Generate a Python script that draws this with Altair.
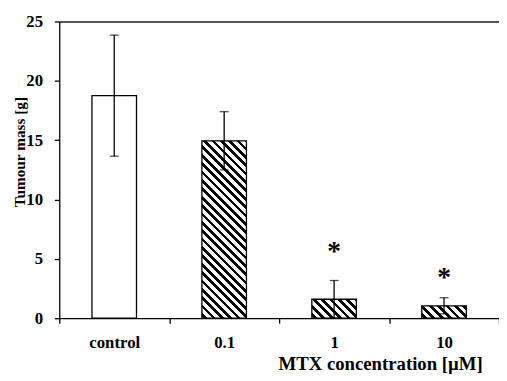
import altair as alt
import pandas as pd

# ---- data ----
categories = ["control", "0.1", "1", "10"]
means = [18.75, 14.95, 1.6, 1.05]
errors = [5.1, 2.45, 1.58, 0.68]
star_categories = ["1", "10"]
star_values = [6.1, 3.9]
star_labels = ["*", "*"]
y_ticks = [0, 5, 10, 15, 20, 25]

df = pd.DataFrame({"cat": categories, "mean": means, "err": errors})
df["lo"] = df["mean"] - df["err"]
df["hi"] = df["mean"] + df["err"]
stars = pd.DataFrame({"cat": star_categories, "y": star_values, "t": star_labels})

# ---- style ----
W, H = 446, 301
YMAX = 25
BAND = 0.405
FONT = "'Liberation Serif', 'Times New Roman', Times, serif"
BAR_W = BAND * W / len(categories)


def hatch(w, h, period=8.5, dark=0.45, phase=2.0):
    """Diagonal '\\' stripes as a hard-stop linear gradient in bbox space."""
    L = w + h
    a = (w + h) / (w * w + h * h)
    stops = [{"offset": 0, "color": "white"}]
    s = phase
    while s < L:
        s0, s1 = s, min(s + dark * period, L)
        stops.append({"offset": s0 / L, "color": "white"})
        stops.append({"offset": s0 / L, "color": "black"})
        stops.append({"offset": s1 / L, "color": "black"})
        stops.append({"offset": s1 / L, "color": "white"})
        s += period
    stops.append({"offset": 1, "color": "white"})
    return {"gradient": "linear", "x1": 0, "y1": 1, "x2": a * w, "y2": 1 - a * h,
            "stops": stops}


xscale = alt.Scale(domain=categories, paddingInner=0, paddingOuter=0)
yscale = alt.Scale(domain=[0, YMAX], nice=False, zero=True)

x_bottom = alt.Axis(orient="bottom", title="MTX concentration [µM]", labelAngle=0,
                    tickBand="extent", tickSize=5, tickColor="black", tickWidth=1.3,
                    domainColor="black", domainWidth=1.3,
                    labelFont=FONT, labelFontSize=17, labelFontWeight="bold",
                    labelColor="black", labelPadding=11.5,
                    titleFont=FONT, titleFontSize=19, titleFontWeight="bold",
                    titleColor="black", titleX=429, titleY=52, titleAlign="right",
                    titleBaseline="alphabetic")
x_top = alt.Axis(orient="top", labels=False, ticks=False, title=None,
                 domainColor="#555555", domainWidth=2)
y_left = alt.Axis(orient="left", values=y_ticks, title="Tumour mass [g]", grid=False,
                  tickSize=5, tickColor="black", tickWidth=1.3,
                  domainColor="black", domainWidth=1.3,
                  labelFont=FONT, labelFontSize=17, labelFontWeight="bold",
                  labelColor="black", labelPadding=12,
                  titleFont=FONT, titleFontSize=15.5, titleFontWeight="bold",
                  titleColor="black", titleX=-40, titleY=132, titleAlign="center",
                  titleBaseline="middle")

layers = []
for i, c in enumerate(categories):
    fill = "white" if i == 0 else hatch(BAR_W, means[i] * H / YMAX)
    layers.append(
        alt.Chart(df).transform_filter(alt.datum.cat == c)
        .mark_bar(fill=fill, stroke="black", strokeWidth=1.3,
                  width=alt.RelativeBandSize(BAND))
        .encode(
            x=alt.X("cat:N", scale=xscale, sort=categories,
                    axis=x_bottom if i == 0 else None),
            y=alt.Y("mean:Q", scale=yscale, axis=y_left),
        )
    )

rules = alt.Chart(df).mark_rule(color="black", strokeWidth=1.3).encode(
    x=alt.X("cat:N", scale=xscale, sort=categories, axis=x_top),
    y=alt.Y("lo:Q", scale=yscale, axis=y_left),
    y2="hi:Q",
)
caps_hi = alt.Chart(df).mark_tick(color="black", thickness=1.3, size=9).encode(
    x=alt.X("cat:N", scale=xscale, sort=categories, axis=None),
    y=alt.Y("hi:Q", scale=yscale, axis=y_left),
)
caps_lo = alt.Chart(df).mark_tick(color="black", thickness=1.3, size=9).encode(
    x=alt.X("cat:N", scale=xscale, sort=categories, axis=None),
    y=alt.Y("lo:Q", scale=yscale, axis=y_left),
)
star_text = alt.Chart(stars).mark_text(font=FONT, fontSize=28, fontWeight="bold",
                                        color="black", dx=0, dy=6).encode(
    x=alt.X("cat:N", scale=xscale, sort=categories, axis=None),
    y=alt.Y("y:Q", scale=yscale, axis=y_left),
    text="t:N",
)

chart = (
    alt.layer(*layers, rules, caps_hi, caps_lo, star_text)
    .resolve_axis(x="independent")
    .properties(width=W, height=H,
                autosize=alt.AutoSizeParams(type="none"),
                padding={"left": 52, "top": 11, "right": 0, "bottom": 61},
                background="white")
    .configure_view(stroke=None)
)

chart.save("out.html", embed_options={"renderer": "svg", "actions": False})
